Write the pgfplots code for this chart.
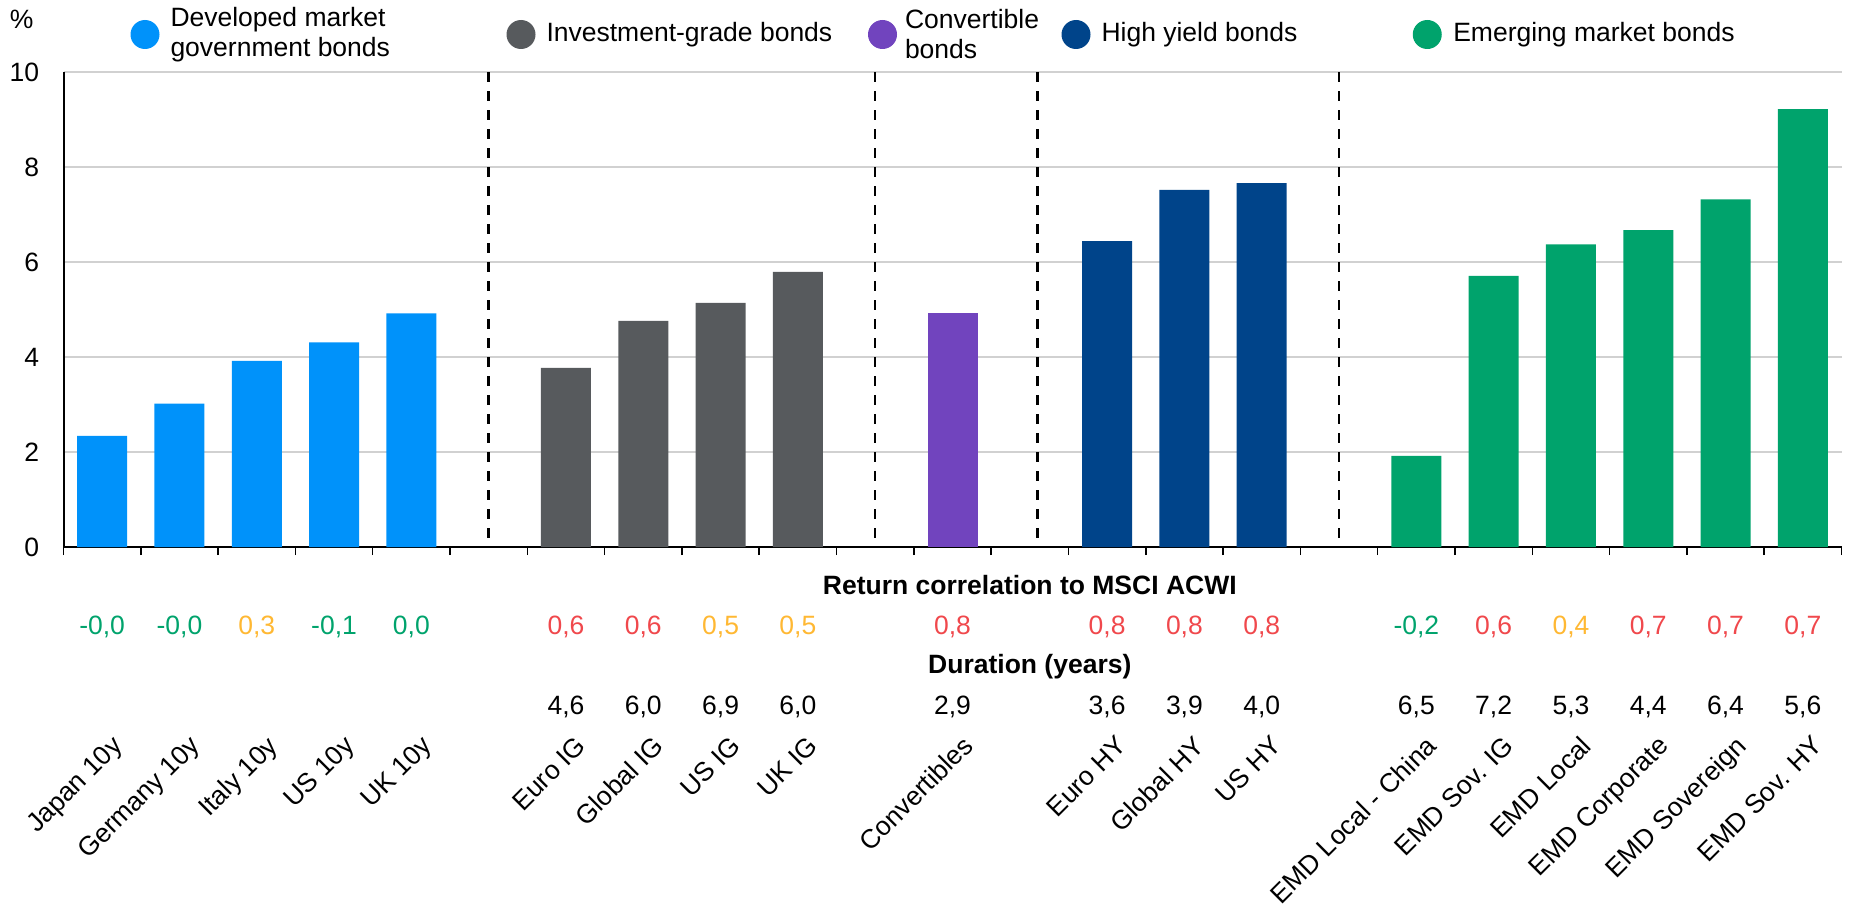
\documentclass[border=0pt]{standalone}
\usepackage{fontspec}
\setmainfont{Liberation Sans}
\usepackage{pgfplots}
\pgfplotsset{compat=1.18}
\definecolor{cDM}{RGB}{0,146,250}
\definecolor{cIG}{RGB}{87,90,93}
\definecolor{cCV}{RGB}{113,68,190}
\definecolor{cHY}{RGB}{0,68,138}
\definecolor{cEM}{RGB}{0,163,108}
\definecolor{tGreen}{RGB}{0,163,108}
\definecolor{tYellow}{RGB}{255,184,51}
\definecolor{tRed}{RGB}{240,72,76}
\newcommand{\f}{\fontsize{10.6pt}{12pt}\selectfont}
\begin{document}
\begin{tikzpicture}[font=\f]
\useasboundingbox (-25.4pt,-143.2pt) rectangle (717.8pt,218.8pt);
\begin{axis}[
  at={(0,0)}, anchor=south west,
  width=711.2pt, height=190pt, scale only axis,
  xmin=-0.5, xmax=22.5, ymin=0, ymax=10,
  clip=false,
  axis x line*=bottom, axis y line*=left,
  axis line style={-, line width=0.8pt, black},
  /pgf/number format/assume math mode=true,
  ytick={0,2,4,6,8,10},
  ymajorgrids,
  major grid style={line width=0.5pt, color=black!18},
  ytick style={draw=none},
  yticklabel style={anchor=east, inner sep=0pt, xshift=-9.6pt, font=\f},
  xtick={0,...,22},
  xticklabels={Japan 10y, Germany 10y, Italy 10y, US 10y, UK 10y, {},
    Euro IG, Global IG, US IG, UK IG, {}, Convertibles, {},
    Euro HY, Global HY, US HY, {},
    EMD Local - China, EMD Sov. IG, EMD Local, EMD Corporate, EMD Sovereign, EMD Sov. HY},
  major x tick style={draw=none},
  minor xtick={-0.5,0.5,...,22.5},
  minor x tick style={line width=0.6pt, black},
  minor tick length=3.2pt,
  xtick align=outside,
  xticklabel style={xshift=3.4pt, yshift=-70.4pt, rotate=45, anchor=north east, inner sep=0pt, font=\f},
]
\addplot[ybar, bar width=0.647, bar shift=0pt, fill=cDM, draw=none]
  coordinates {(0,2.34) (1,3.02) (2,3.92) (3,4.31) (4,4.92)};
\addplot[ybar, bar width=0.647, bar shift=0pt, fill=cIG, draw=none]
  coordinates {(6,3.77) (7,4.76) (8,5.14) (9,5.79)};
\addplot[ybar, bar width=0.647, bar shift=0pt, fill=cCV, draw=none]
  coordinates {(11,4.93)};
\addplot[ybar, bar width=0.647, bar shift=0pt, fill=cHY, draw=none]
  coordinates {(13,6.44) (14,7.52) (15,7.66)};
\addplot[ybar, bar width=0.647, bar shift=0pt, fill=cEM, draw=none]
  coordinates {(17,1.92) (18,5.71) (19,6.37) (20,6.67) (21,7.32) (22,9.22)};
% separators
\addplot[black, line width=1pt, dash pattern=on 4pt off 3.6pt] coordinates {(5,10) (5,0.1)};
\addplot[black, line width=1pt, dash pattern=on 4pt off 3.6pt] coordinates {(10,10) (10,0.1)};
\addplot[black, line width=1pt, dash pattern=on 4pt off 3.6pt] coordinates {(12.1,10) (12.1,0.1)};
\addplot[black, line width=1pt, dash pattern=on 4pt off 3.6pt] coordinates {(16,10) (16,0.1)};
% headers
\node[font=\f\bfseries, yshift=-15.2pt] at (axis cs:12,0) {Return correlation to MSCI ACWI};
\node[font=\f\bfseries, yshift=-48pt] at (axis cs:12,0) {Duration (years)};
% correlations
\node[text=tGreen, yshift=-32pt] at (axis cs:0,0) {-0,0};
\node[text=tGreen, yshift=-32pt] at (axis cs:1,0) {-0,0};
\node[text=tYellow, yshift=-32pt] at (axis cs:2,0) {0,3};
\node[text=tGreen, yshift=-32pt] at (axis cs:3,0) {-0,1};
\node[text=tGreen, yshift=-32pt] at (axis cs:4,0) {0,0};
\node[text=tRed, yshift=-32pt] at (axis cs:6,0) {0,6};
\node[text=tRed, yshift=-32pt] at (axis cs:7,0) {0,6};
\node[text=tYellow, yshift=-32pt] at (axis cs:8,0) {0,5};
\node[text=tYellow, yshift=-32pt] at (axis cs:9,0) {0,5};
\node[text=tRed, yshift=-32pt] at (axis cs:11,0) {0,8};
\node[text=tRed, yshift=-32pt] at (axis cs:13,0) {0,8};
\node[text=tRed, yshift=-32pt] at (axis cs:14,0) {0,8};
\node[text=tRed, yshift=-32pt] at (axis cs:15,0) {0,8};
\node[text=tGreen, yshift=-32pt] at (axis cs:17,0) {-0,2};
\node[text=tRed, yshift=-32pt] at (axis cs:18,0) {0,6};
\node[text=tYellow, yshift=-32pt] at (axis cs:19,0) {0,4};
\node[text=tRed, yshift=-32pt] at (axis cs:20,0) {0,7};
\node[text=tRed, yshift=-32pt] at (axis cs:21,0) {0,7};
\node[text=tRed, yshift=-32pt] at (axis cs:22,0) {0,7};
% durations
\node[yshift=-64pt] at (axis cs:6,0) {4,6};
\node[yshift=-64pt] at (axis cs:7,0) {6,0};
\node[yshift=-64pt] at (axis cs:8,0) {6,9};
\node[yshift=-64pt] at (axis cs:9,0) {6,0};
\node[yshift=-64pt] at (axis cs:11,0) {2,9};
\node[yshift=-64pt] at (axis cs:13,0) {3,6};
\node[yshift=-64pt] at (axis cs:14,0) {3,9};
\node[yshift=-64pt] at (axis cs:15,0) {4,0};
\node[yshift=-64pt] at (axis cs:17,0) {6,5};
\node[yshift=-64pt] at (axis cs:18,0) {7,2};
\node[yshift=-64pt] at (axis cs:19,0) {5,3};
\node[yshift=-64pt] at (axis cs:20,0) {4,4};
\node[yshift=-64pt] at (axis cs:21,0) {6,4};
\node[yshift=-64pt] at (axis cs:22,0) {5,6};
\end{axis}
% y unit label
\node at (-16.7pt,211pt) {\%};
% legend
\fill[cDM] (32.6pt,205pt) circle (5.8pt);
\node[anchor=west, inner sep=0pt, align=left] at (42.6pt,205pt) {Developed market\\government bonds};
\fill[cIG] (183pt,205pt) circle (5.8pt);
\node[anchor=west, inner sep=0pt] at (193pt,205pt) {Investment-grade bonds};
\fill[cCV] (327.6pt,205pt) circle (5.8pt);
\node[anchor=west, inner sep=0pt, align=left] at (336.4pt,205pt) {Convertible\\bonds};
\fill[cHY] (405pt,205pt) circle (5.8pt);
\node[anchor=west, inner sep=0pt] at (415pt,205pt) {High yield bonds};
\fill[cEM] (545.5pt,205pt) circle (5.8pt);
\node[anchor=west, inner sep=0pt] at (555.7pt,205pt) {Emerging market bonds};
\end{tikzpicture}
\end{document}
